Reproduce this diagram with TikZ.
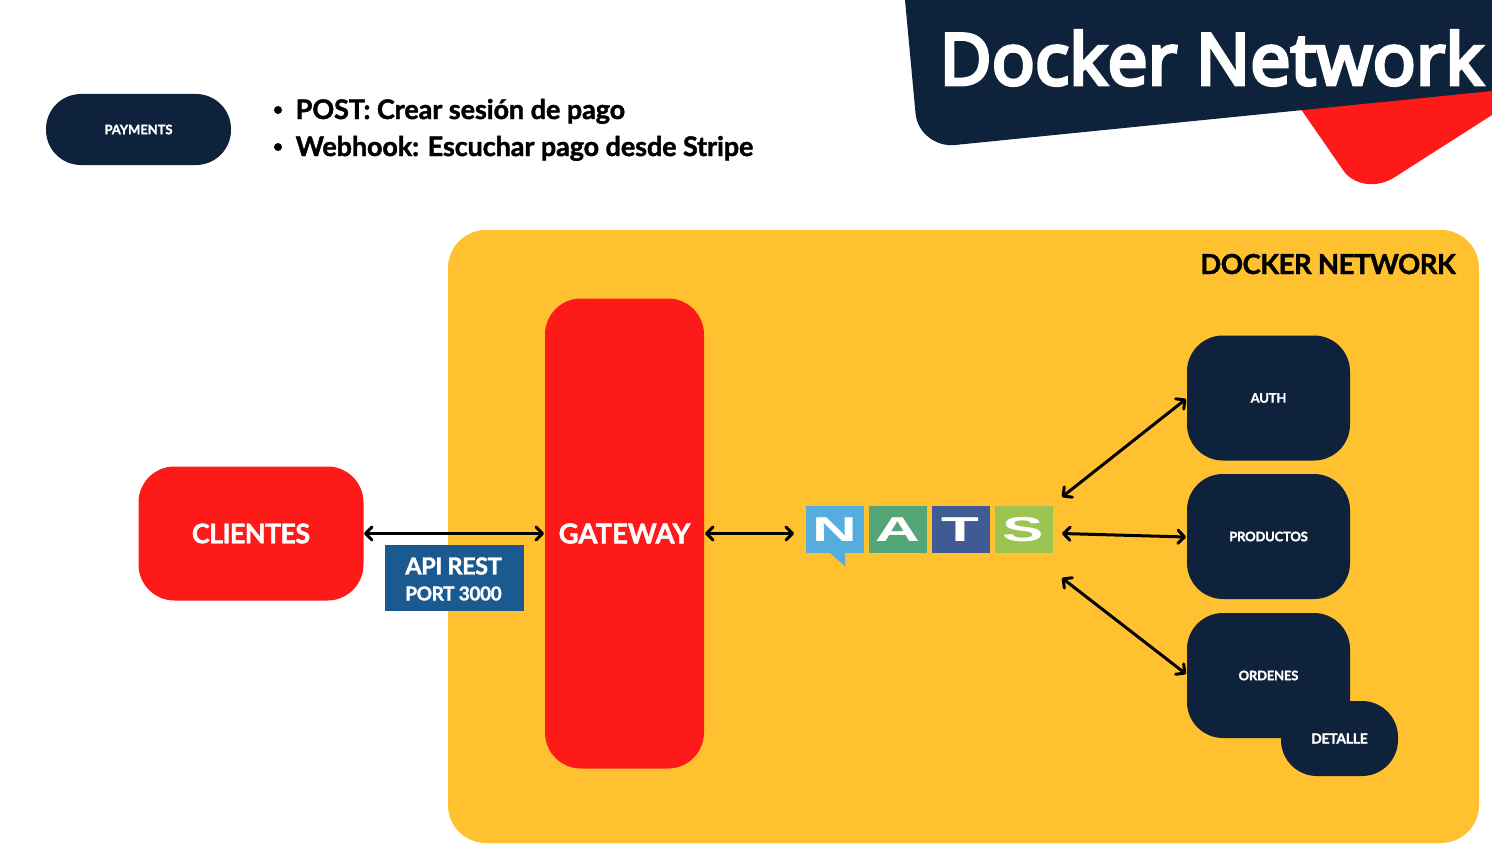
\documentclass[tikz,border=0pt]{standalone}
\usepackage{fontspec}
\setmainfont{Lato}
\newfontfamily\titlefont{Noto Sans}[FakeBold=4.5]
\newfontfamily\logofont{Liberation Sans}
\newcommand{\lat}[2]{\bfseries\fontsize{#1}{#1}\selectfont\addfontfeature{LetterSpace=#2,FakeBold=1.5}}
\usetikzlibrary{arrows.meta}
\definecolor{navy}{HTML}{0E223C}
\definecolor{redc}{HTML}{FF1A1A}
\definecolor{amber}{HTML}{FFC130}
\definecolor{portblue}{HTML}{1B5A91}
\definecolor{natsN}{HTML}{55ADDE}
\definecolor{natsA}{HTML}{55A677}
\definecolor{natsT}{HTML}{405A94}
\definecolor{natsS}{HTML}{9CC452}
\tikzset{
  x=1pt,y=-1pt,
  box/.style={anchor=center,inner sep=0pt,outer sep=0pt,align=center,text=white,font=\bfseries},
  service/.style={box,fill=navy,rounded corners=36pt,minimum width=163pt,minimum height=125pt,font=\lat{13}{-1.4}},
  bigred/.style={box,fill=redc},
  logo/.style={box,minimum width=58pt,minimum height=47pt},
  logoletter/.style={text=white,inner sep=0pt,font=\logofont\bfseries\fontsize{36}{36}\selectfont,xscale=1.72,yscale=.96},
  link/.style={draw=black,line width=3pt,{Straight Barb[length=6.5pt,width=13pt,round]}-{Straight Barb[length=6.5pt,width=13pt,round]}},
}
\begin{document}
\begin{tikzpicture}
\useasboundingbox (0,0) rectangle (1492,851);
\fill[white] (0,0) rectangle (1492,851);
% banner
\fill[redc] (1298,105) -- (1343,170) .. controls (1352,184) and (1375,190) .. (1395,177) -- (1492,115) -- (1492,85) -- cycle;
\fill[navy] (905,0) -- (915.5,113) .. controls (917,133) and (936,147) .. (955,145) -- (1492,91) -- (1492,0) -- cycle;
\node[inner sep=0pt,text=white,font=\titlefont\fontsize{71.5}{71.5}\selectfont] (title) at (1211.5,58) {Docker Network};
% legend
\node[box,fill=navy,rounded corners=35pt,minimum width=185pt,minimum height=71pt,font=\lat{13}{-0.6}] (pay) at (138.5,129.5) {PAYMENTS};
\fill[black] (278,110) circle (4pt);
\fill[black] (278,147) circle (4pt);
\node[anchor=base west,inner sep=0pt,font=\lat{27}{-0.3}] (l1) at (295.5,119) {POST: Crear sesión de pago};
\node[anchor=base west,inner sep=0pt,font=\lat{27}{-0.4}] (l2) at (295.5,156) {Webhook: Escuchar pago desde Stripe};
% network
\fill[amber,rounded corners=38pt] (448,230) rectangle (1479,843);
\node[anchor=base east,inner sep=0pt,font=\lat{27.5}{-1.7}] (dn) at (1456,274) {DOCKER NETWORK};
\node[bigred,rounded corners=36pt,minimum width=225pt,minimum height=134pt,font=\lat{27}{-2.4}] (cli) at (251,533.5) {\raisebox{-1pt}{CLIENTES}};
\node[bigred,rounded corners=36pt,minimum width=159pt,minimum height=470pt,font=\lat{27.5}{0}] (gw) at (624.5,533.5) {\raisebox{-1pt}{GATEWAY}};
\node[box,fill=portblue,minimum width=139pt,minimum height=66pt] (api) at (454,577.5) {};
\node[inner sep=0pt,text=white,font=\lat{23.5}{-2}] (apit) at (453.5,566) {API REST};
\node[inner sep=0pt,text=white,font=\lat{19}{-2}] (port) at (453.5,593.5) {PORT 3000};
% services
\node[service] (auth) at (1268.5,398) {AUTH};
\node[service] (prod) at (1268.5,536.5) {PRODUCTOS};
\node[service] (ord) at (1268.5,675.5) {ORDENES};
\node[box,fill=navy,rounded corners=36pt,minimum width=117pt,minimum height=75pt,font=\lat{14}{-2}] (det) at (1339.5,738.5) {DETALLE};
% NATS logo
\fill[natsN] (830,553) -- (845,566) -- (845,553) -- cycle;
\node[logo,fill=natsN] (n) at (834.5,529.5) {};
\node[logo,fill=natsA] (a) at (897.5,529.5) {};
\node[logo,fill=natsT] (t) at (960.5,529.5) {};
\node[logo,fill=natsS] (s) at (1023.5,529.5) {};
\node[logoletter] at (n.center) {N};
\node[logoletter] at (a.center) {A};
\node[logoletter] at (t.center) {T};
\node[logoletter] at (s.center) {S};
% connectors
\coordinate (gr) at (705,533.5);
\coordinate (natl) at (794,533.5);
\coordinate (natr) at (1062,533.5);
\coordinate (natu) at (1062,497);
\coordinate (natd) at (1062,578);
\coordinate (authl) at (1186,399);
\coordinate (prodl) at (1186,537);
\coordinate (ordl) at (1186,674);
\coordinate (cr) at (364,533.5);
\coordinate (gl) at (544,533.5);
\draw[link] (cr) -- (gl);
\draw[link] (gr) -- (natl);
\draw[link] (natu) -- (authl);
\draw[link] (natr) -- (prodl);
\draw[link] (natd) -- (ordl);
\end{tikzpicture}
\end{document}
